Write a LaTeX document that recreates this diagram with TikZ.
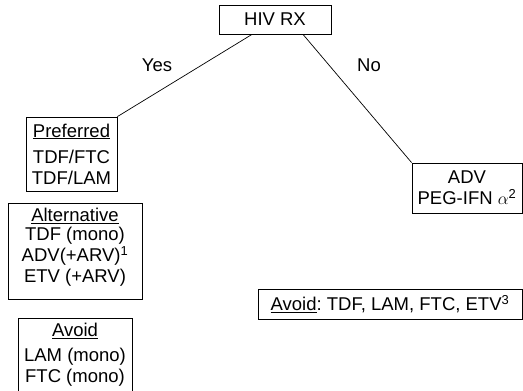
\documentclass[tikz,border=0pt]{standalone}
\usepackage{fontspec}
\setmainfont{Liberation Sans}
\frenchspacing
\begin{document}
\begin{tikzpicture}[x=1pt,y=1pt,
  every node/.style={font=\fontsize{18.5}{21}\selectfont},
  box/.style={draw, line width=0.8pt, align=center, inner sep=0pt},
  link/.style={line width=0.7pt}]
  %%%%% START %%%%%
  \useasboundingbox (0,0) rectangle (523,391);

  \node[box, minimum width=112pt, minimum height=29pt] (rx) at (275,371.5) {HIV RX};

  \node[box, minimum width=91pt, minimum height=74pt] (pref) at (71.5,237)
    {\underline{Preferred}\\[5pt] TDF/FTC\\ TDF/LAM};
  \node[box, minimum width=134pt, minimum height=96pt] (alt) at (75,140)
    {\underline{Alternative}\\[-2pt] TDF (mono)\\ ADV(+ARV)\textsuperscript{1}\\ ETV (+ARV)\\[-10pt]\mbox{}};
  \node[box, minimum width=114pt, minimum height=74pt] (avoidl) at (75,36)
    {\underline{Avoid}\\[4pt] LAM (mono)\\ FTC (mono)};

  \node[box, minimum width=110pt, minimum height=50pt] (adv) at (467,203)
    {ADV\\ PEG-IFN $\alpha$\textsuperscript{2}};
  \node[box, minimum width=264pt, minimum height=30pt] (avoidr) at (390,87)
    {\underline{Avoid}: TDF, LAM, FTC, ETV\textsuperscript{3}};

  \node (yes) at (157,326) {Yes};
  \node (no) at (369,326) {No};

  \draw[link] (rx.south) ++(-23pt,0) -- (pref.north east);
  \draw[link] (rx.south) ++(28pt,0) -- (adv.north west);
  %%%%% END %%%%%
\end{tikzpicture}
\end{document}
